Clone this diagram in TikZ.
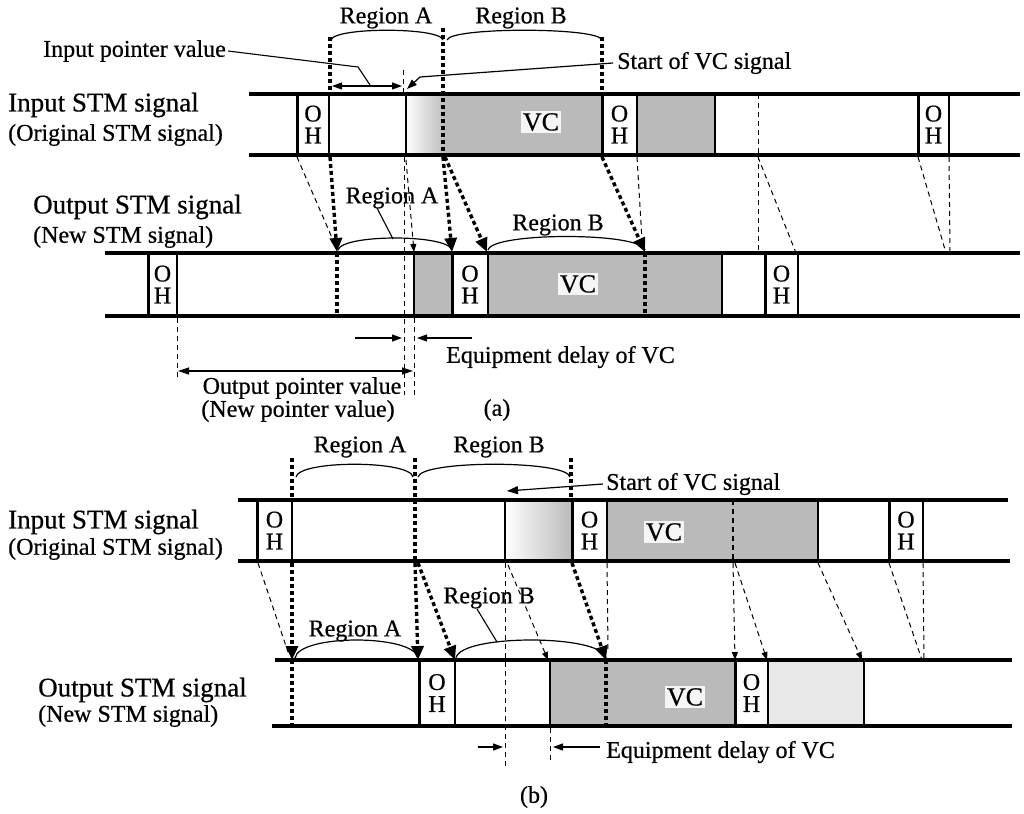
\documentclass[tikz,border=0pt]{standalone}
\usepackage{fontspec}
\setmainfont{Liberation Serif}[FakeBold=0.6]
\usetikzlibrary{arrows.meta}
\newcommand\myoh[5]{%
  \draw[ohthick] (#1,#3) -- (#1,#4);
  \draw[ohthin] (#2,#3) -- (#2,#4);
  \node[ohtxt] (#5) at ({(#1+#2)/2},{(#3+#4)/2}) {O\\H};
}
\begin{document}
\begin{tikzpicture}[x=1pt,y=-1pt,
  bar/.style={line width=3.2pt},
  ohthick/.style={line width=3pt},
  ohthin/.style={line width=1.2pt},
  midline/.style={line width=2pt},
  tdot/.style={line width=3.4pt, dash pattern=on 4pt off 3pt},
  tdash/.style={line width=1pt, dash pattern=on 5pt off 4pt},
  bigtip/.style={-{Triangle[length=14pt,width=12pt]}},
  smalltip/.style={-{Triangle[length=8pt,width=6pt]}},
  lead/.style={line width=1.1pt},
  leadtip/.style={line width=1.2pt, -{Triangle[length=10pt,width=7pt]}},
  lbl/.style={font=\fontsize{24}{26}\selectfont, inner sep=0pt},
  big/.style={font=\fontsize{27}{29}\selectfont, inner sep=0pt, anchor=west},
  paren/.style={font=\fontsize{24}{26}\selectfont, inner sep=0pt, anchor=west},
  ohtxt/.style={font=\fontsize{24}{22}\selectfont, align=center, inner sep=0pt},
  vctxt/.style={font=\fontsize{26}{28}\selectfont, inner sep=2pt, fill=gray!8},
  shd/.style={fill=black!27},
  lightshd/.style={fill=black!9},
  brace/.style={line width=1.2pt},
]
\useasboundingbox (0,0) rectangle (1024,813);
\fill[white] (0,0) rectangle (1024,813);

% ================= (a) input =================
\shade[left color=white, right color=black!27] (406,94) rectangle (445,155);
\fill[shd] (445,94) rectangle (602,155);
\fill[shd] (637,94) rectangle (715,155);
\draw[bar] (249,94) -- (1020,94);
\draw[bar] (249,155) -- (1020,155);
\myoh{297}{329}{94}{155}{aiOH1}
\draw[midline] (406,94) -- (406,155);
\myoh{602}{637}{94}{155}{aiOH2}
\draw[midline] (715,94) -- (715,155);
\draw[tdash] (758,94) -- (758,155);
\myoh{918}{949}{94}{155}{aiOH3}
\node[vctxt] (aiVC) at (541,122) {VC};
\node[big] (aiL1) at (8,105) {Input STM signal};
\node[paren] (aiL2) at (8,135) {(Original STM signal)};

\draw[brace] (331,40) .. controls (334,27) and (440,27) .. (443,40);
\draw[brace] (447,40) .. controls (450,27) and (599,27) .. (602,40);
\node[lbl] (aRA) at (386,18) {Region A};
\node[lbl] (aRB) at (521,18) {Region B};

\draw[tdot] (330,37) -- (330,94);
\draw[tdot] (443,28) -- (443,157);
\draw[tdot] (602,37) -- (602,94);
\draw[tdash] (403,70) -- (403,94);

\node[lbl, anchor=east] (aIPV) at (226,51) {Input pointer value};
\draw[lead] ([xshift=2pt]aIPV.east) -- (358,67) -- (370,85);
\draw[line width=1.2pt, {Triangle[length=10pt,width=7pt]}-{Triangle[length=10pt,width=7pt]}] (332,86) -- (402,86);

\node[lbl, anchor=west] (aSVC) at (617,63) {Start of VC signal};
\draw[leadtip] ([xshift=-4pt]aSVC.west) -- (420,77) -- (407,89);

% connectors (a)
\draw[tdash] (297,157) -- (333,240);
\draw[tdot,bigtip] (330,157) -- (337,252);
\draw[tdash] (404,157) -- (404,395);
\draw[tdash,smalltip] (406,160) -- (414,252);
\draw[tdot,bigtip] (443,157) -- (452,252);
\draw[tdot,bigtip] (445,157) -- (487,252);
\draw[tdot,bigtip] (602,157) -- (645,252);
\draw[tdash] (637,157) -- (642,240);
\draw[tdash] (758,155) -- (758,253);
\draw[tdash] (758,157) -- (796,253);
\draw[tdash] (918,157) -- (946,253);
\draw[tdash] (949,157) -- (950,253);

% ================= (a) output =================
\fill[shd] (414,253) rectangle (452,316);
\fill[shd] (488,253) rectangle (722,316);
\draw[bar] (105,253) -- (1020,253);
\draw[bar] (105,316) -- (1020,316);
\myoh{148}{177}{253}{316}{aoOH1}
\draw[tdot] (337,253) -- (337,316);
\draw[midline] (414,253) -- (414,316);
\myoh{452}{488}{253}{316}{aoOH2}
\draw[tdot] (645,253) -- (645,316);
\draw[midline] (722,253) -- (722,316);
\myoh{765}{798}{253}{316}{aoOH3}
\node[vctxt] (aoVC) at (578,284) {VC};
\node[big] (aoL1) at (33,207) {Output STM signal};
\node[paren] (aoL2) at (33,237) {(New STM signal)};

\draw[brace] (338,250) .. controls (342,234) and (448,234) .. (452,250);
\draw[brace] (488,250) .. controls (492,232) and (641,232) .. (645,250);
\node[lbl] (aoRA) at (392,198) {Region A};
\draw[lead] (377,208) -- (393,239);
\node[lbl] (aoRB) at (558,225) {Region B};

\draw[tdash] (177,318) -- (177,380);
\draw[tdash] (414,318) -- (414,395);
\draw[line width=1.2pt, {Triangle[length=11pt,width=7pt]}-{Triangle[length=11pt,width=7pt]}] (178,371) -- (413,371);
\node[lbl] (aOPV) at (302,388) {Output pointer value};
\node[lbl] (aNPV) at (298,411) {(New pointer value)};

\draw[leadtip] (355,338) -- (402,338);
\draw[leadtip] (472,338) -- (417,338);
\node[lbl, anchor=west] (aEQ) at (446,357) {Equipment delay of VC};
\node[lbl] (aCap) at (497,410) {(a)};

% ================= (b) input =================
\shade[left color=white, right color=black!27] (505,500) rectangle (572,561);
\fill[shd] (607,500) rectangle (818,561);
\draw[bar] (238,500) -- (1008,500);
\draw[bar] (238,561) -- (1010,561);
\myoh{257}{292}{500}{561}{biOH1}
\draw[midline] (505,500) -- (505,561);
\myoh{572}{607}{500}{561}{biOH2}
\draw[tdash, line width=1.5pt] (733,500) -- (733,561);
\draw[midline] (818,500) -- (818,561);
\myoh{889}{923}{500}{561}{biOH3}
\node[vctxt] (biVC) at (664,532) {VC};
\node[big] (biL1) at (8,522) {Input STM signal};
\node[paren] (biL2) at (8,549) {(Original STM signal)};

\draw[brace] (296,477) .. controls (299,460) and (410,460) .. (413,477);
\draw[brace] (418,477) .. controls (421,460) and (567,460) .. (570,477);
\node[lbl] (bRA) at (360,447) {Region A};
\node[lbl] (bRB) at (499,447) {Region B};

\draw[tdot] (292,458) -- (292,500);
\draw[tdot] (415,458) -- (415,563);
\draw[tdot] (571,458) -- (571,500);

\node[lbl, anchor=west] (bSVC) at (606,484) {Start of VC signal};
\draw[line width=1.2pt, -{Triangle[length=11pt,width=8pt]}] ([xshift=-3pt]bSVC.west) -- (507,491);

% connectors (b)
\draw[tdash] (258,563) -- (288,652);
\draw[tdot,bigtip] (292,563) -- (292,660);
\draw[tdot,bigtip] (415,563) -- (418,660);
\draw[tdot,bigtip] (418,563) -- (455,660);
\draw[tdash] (505,563) -- (505,767);
\draw[tdash,smalltip] (508,565) -- (548,660);
\draw[tdot,bigtip] (572,563) -- (606,660);
\draw[tdash] (607,563) -- (608,650);
\draw[tdash,smalltip] (733,563) -- (735,660);
\draw[tdash,smalltip] (735,563) -- (767,660);
\draw[tdash,smalltip] (818,563) -- (862,660);
\draw[tdash] (889,563) -- (922,660);
\draw[tdash] (923,563) -- (924,660);

% ================= (b) output =================
\fill[shd] (550,660) rectangle (735,726);
\fill[lightshd] (768,660) rectangle (864,726);
\draw[bar] (275,660) -- (1012,660);
\draw[bar] (272,726) -- (1012,726);
\draw[tdot] (292,660) -- (292,726);
\myoh{419}{455}{660}{726}{boOH1}
\draw[midline] (550,660) -- (550,726);
\draw[tdot] (606,660) -- (606,726);
\myoh{735}{768}{660}{726}{boOH2}
\draw[midline] (864,660) -- (864,726);
\node[vctxt] (boVC) at (685,697) {VC};
\node[big] (boL1) at (38,690) {Output STM signal};
\node[paren] (boL2) at (38,716) {(New STM signal)};

\draw[brace] (295,658) .. controls (299,634) and (414,634) .. (418,658);
\draw[brace] (456,658) .. controls (460,634) and (602,634) .. (606,658);
\node[lbl] (boRA) at (355,631) {Region A};
\node[lbl] (boRB) at (489,598) {Region B};
\draw[lead] (477,609) -- (497,642);

\draw[tdash] (550,728) -- (550,763);
\draw[leadtip] (478,747) -- (503,747);
\draw[leadtip] (600,747) -- (553,747);
\node[lbl, anchor=west] (bEQ) at (606,752) {Equipment delay of VC};
\node[lbl] (bCap) at (534,797) {(b)};
\end{tikzpicture}
\end{document}
